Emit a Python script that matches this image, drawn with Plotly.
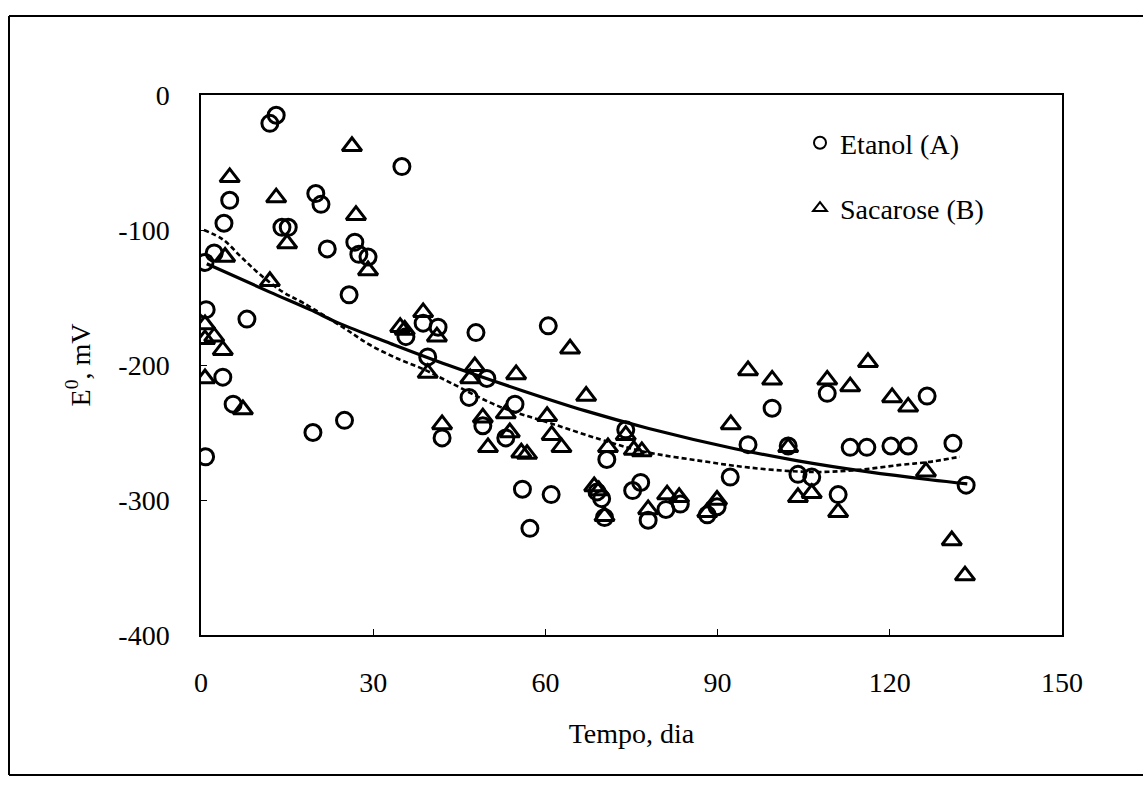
import plotly.graph_objects as go

# ---- data ----
etanol_x = [0.7, 0.9, 0.8, 2.3, 4.0, 5.0, 3.8, 5.6, 8.0, 12.0, 13.1, 14.1, 15.2, 20.0, 20.9,
            22.0, 19.5, 25.0, 25.8, 26.8, 27.5, 29.1, 35.0, 35.7, 38.7, 41.3, 39.5, 42.0,
            46.7, 47.9, 49.1, 49.8, 53.1, 54.7, 56.0, 57.3, 60.5, 61.0, 69.0, 69.8, 70.3,
            70.7, 74.0, 75.2, 76.6, 77.9, 81.0, 83.5, 88.2, 89.9, 92.2, 95.3, 99.5, 102.3,
            104.0, 106.4, 109.1, 111.0, 113.1, 116.0, 120.2, 123.2, 126.5, 131.0, 133.3]
etanol_y = [-124, -159, -268, -117, -95, -78, -209, -229, -166, -21, -15, -98, -98, -73, -81,
            -114, -250, -241, -148, -109, -118, -120, -53, -179, -169, -172, -194, -254,
            -224, -176, -245, -210, -254, -229, -292, -321, -171, -296, -294, -299, -313,
            -270, -248, -293, -287, -315, -307, -303, -311, -305, -283, -259, -232, -260,
            -281, -283, -221, -296, -261, -261, -260, -260, -223, -258, -289]

sacarose_x = [0.7, 0.7, 2.3, 3.8, 0.7, 4.2, 5.0, 7.3, 12.0, 13.1, 15.0, 26.3, 27.0, 29.1,
              34.7, 35.5, 38.7, 41.1, 39.5, 42.0, 46.9, 47.7, 49.1, 50.0, 53.1, 53.8, 54.9,
              55.8, 56.8, 60.3, 61.1, 62.8, 64.3, 67.1, 68.5, 69.3, 70.3, 70.9, 74.0, 75.4,
              76.8, 77.9, 81.2, 83.3, 88.2, 89.9, 92.3, 95.3, 99.5, 102.3, 104.0, 106.4,
              109.1, 111.0, 113.1, 116.2, 120.4, 123.2, 126.3, 130.8, 133.1]
sacarose_y = [-170, -181, -179, -189, -210, -120, -61, -233, -138, -76, -110, -38, -89, -130,
              -172, -174, -161, -179, -206, -244, -210, -201, -239, -261, -236, -250, -207,
              -265, -266, -238, -252, -261, -188, -223, -290, -293, -312, -261, -252, -263,
              -264, -307, -296, -298, -309, -300, -244, -204, -211, -261, -298, -295,
              -211, -309, -216, -198, -224, -231, -279, -330, -356]

# trend lines
fitA_x = [1, 12, 19, 24, 33, 43, 56, 67, 78, 93, 104, 116, 127, 133.5]
fitA_y = [-125, -146, -159, -169, -184, -200, -219, -234, -247, -262, -271, -279, -285, -288]

fitB_x = [0.5, 3.8, 7.0, 10.3, 14.3, 17.8, 24.7, 29.4, 34.1, 38.7, 43.4, 52.1, 60.8, 69.5,
          77.0, 87.0, 95.6, 104.4, 110.0, 116.0, 121.8, 126.5, 132.2]
fitB_y = [-100, -107, -120, -133, -146, -154, -172, -185, -195, -203, -213, -231, -243, -255,
          -264, -271, -276, -279, -279, -277, -274, -272, -268]

x_ticks = [0, 30, 60, 90, 120, 150]
y_ticks = [0, -100, -200, -300, -400]
y_ticktext = ["0", "-100", "-200", "-300", "-400"]

FONT = "Liberation Serif, Times New Roman, serif"

fig = go.Figure()
fig.add_trace(go.Scatter(x=fitA_x, y=fitA_y, mode="lines", line=dict(color="black", width=3.2, shape="spline"),
                         showlegend=False, hoverinfo="skip"))
fig.add_trace(go.Scatter(x=fitB_x, y=fitB_y, mode="lines",
                         line=dict(color="black", width=2.6, dash="5px,3px", shape="spline"),
                         showlegend=False, hoverinfo="skip"))
fig.add_trace(go.Scatter(x=etanol_x, y=etanol_y, mode="markers", name="Etanol (A)", legendgroup="a",
                         marker=dict(symbol="circle-open", size=16, color="black", line=dict(width=3, color="black"))))
fig.add_trace(go.Scatter(x=sacarose_x, y=sacarose_y, mode="markers", name="Sacarose (B)", legendgroup="b",
                         marker=dict(symbol="triangle-up-open", size=17, color="black", line=dict(width=3, color="black"))))

L, R, T, B = 201, 81, 95, 157
W, H = 1143, 792
pw, ph = W - L - R, H - T - B

def px2paper_x(px):
    return (px - L) / pw

def px2paper_y(py):
    return (H - B - py) / ph

# outer frame: top, left and bottom edges (right edge lies outside the picture)
fx0, fx1 = px2paper_x(9), px2paper_x(1200)
fy0, fy1 = px2paper_y(775), px2paper_y(16)
for (a, b, c, d) in [(fx0, fy1, fx1, fy1), (fx0, fy0, fx0, fy1), (fx0, fy0, fx1, fy0)]:
    fig.add_shape(type="line", xref="paper", yref="paper", x0=a, y0=b, x1=c, y1=d,
                  line=dict(color="black", width=2), layer="below")

fig.update_layout(
    width=W, height=H,
    margin=dict(l=L, r=R, t=T, b=B, autoexpand=False),
    paper_bgcolor="white", plot_bgcolor="white",
    font=dict(family=FONT, size=28, color="black"),
    showlegend=True,
    legend=dict(x=px2paper_x(800), y=px2paper_y(118), xanchor="left", yanchor="top",
                font=dict(family=FONT, size=28, color="black"), bgcolor="rgba(0,0,0,0)",
                itemsizing="constant", traceorder="grouped", tracegroupgap=26),
    xaxis=dict(range=[0, 150], tickvals=x_ticks, ticks="inside", ticklen=6, tickcolor="black",
               showline=True, linecolor="black", linewidth=1.5, mirror=True, showgrid=False, zeroline=False,
               ticklabelstandoff=22,
               title=dict(text="Tempo, dia", standoff=26, font=dict(family=FONT, size=28))),
    yaxis=dict(range=[-400, 0], tickvals=y_ticks, ticktext=y_ticktext, ticks="inside", ticklen=6,
               tickcolor="black", showline=True, linecolor="black", linewidth=1.5, mirror=True,
               showgrid=False, zeroline=False, ticklabelstandoff=24,
               title=dict(text="E<sup>0</sup>, mV", standoff=20, font=dict(family=FONT, size=28))),
)

fig.write_html("out.html", config={"displayModeBar": False},
               post_script="document.body.style.margin='0';document.body.style.overflow='hidden';")
